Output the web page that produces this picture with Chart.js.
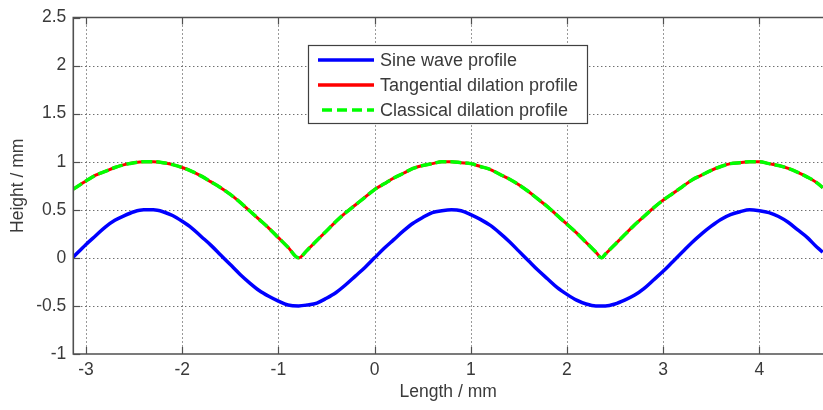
<!DOCTYPE html>
<html>
<head>
<meta charset="utf-8" />
<script src="https://cdn.jsdelivr.net/npm/chart.js@4.4.0/dist/chart.umd.min.js"></script>
<style>
  body { margin: 0; background: #fff; overflow: hidden; }
  #c { display: block; }
</style>
</head>
<body>
<canvas id="c" width="823" height="410"></canvas>
<script>
/* ---------- Data ---------- */
const xs = [-3.14, -3.0, -2.9, -2.8, -2.7, -2.6, -2.5, -2.4, -2.3, -2.2, -2.1, -2.0, -1.9, -1.8, -1.7, -1.6,
  -1.5, -1.4, -1.3, -1.2, -1.1, -1.0, -0.9, -0.79, -0.7, -0.6, -0.5, -0.4, -0.3, -0.2, -0.1, 0.0,
  0.1, 0.2, 0.3, 0.4, 0.5, 0.6, 0.7, 0.8, 0.9, 1.0, 1.1, 1.2, 1.3, 1.4, 1.5, 1.6,
  1.7, 1.8, 1.9, 2.0, 2.1, 2.2, 2.3, 2.36, 2.4, 2.5, 2.6, 2.7, 2.8, 2.9, 3.0, 3.1,
  3.2, 3.3, 3.4, 3.5, 3.6, 3.7, 3.8, 3.9, 4.0, 4.1, 4.2, 4.3, 4.4, 4.5, 4.6, 4.66];

const sineWave = [0.00, 0.14, 0.23, 0.32, 0.39, 0.44, 0.48, 0.50, 0.50, 0.48, 0.44, 0.38, 0.31, 0.22, 0.13, 0.03,
  -0.07, -0.17, -0.26, -0.34, -0.40, -0.45, -0.49, -0.50, -0.49, -0.47, -0.42, -0.36, -0.28, -0.19, -0.10, 0.00,
  0.10, 0.19, 0.28, 0.36, 0.42, 0.47, 0.49, 0.50, 0.49, 0.45, 0.40, 0.34, 0.26, 0.17, 0.07, -0.03,
  -0.13, -0.22, -0.31, -0.38, -0.44, -0.48, -0.50, -0.50, -0.50, -0.48, -0.44, -0.39, -0.32, -0.23, -0.14, -0.04,
  0.06, 0.16, 0.25, 0.33, 0.40, 0.45, 0.48, 0.50, 0.49, 0.47, 0.43, 0.37, 0.29, 0.21, 0.11, 0.06];

const tangential = [0.71, 0.80, 0.86, 0.90, 0.94, 0.97, 0.99, 1.00, 1.00, 0.99, 0.97, 0.94, 0.90, 0.85, 0.79, 0.73,
  0.66, 0.58, 0.49, 0.40, 0.31, 0.21, 0.11, 0.00, 0.08, 0.18, 0.28, 0.38, 0.47, 0.55, 0.63, 0.71,
  0.77, 0.83, 0.88, 0.93, 0.96, 0.98, 1.00, 1.00, 0.99, 0.98, 0.95, 0.92, 0.87, 0.82, 0.76, 0.69,
  0.61, 0.53, 0.44, 0.35, 0.26, 0.16, 0.06, 0.00, 0.04, 0.14, 0.24, 0.34, 0.43, 0.52, 0.60, 0.67,
  0.74, 0.81, 0.86, 0.91, 0.95, 0.98, 0.99, 1.00, 1.00, 0.98, 0.96, 0.93, 0.89, 0.84, 0.78, 0.73];

const classical = [0.71, 0.80, 0.86, 0.90, 0.94, 0.97, 0.99, 1.00, 1.00, 0.99, 0.97, 0.94, 0.90, 0.85, 0.79, 0.73,
  0.66, 0.58, 0.49, 0.40, 0.31, 0.21, 0.11, 0.00, 0.08, 0.18, 0.28, 0.38, 0.47, 0.55, 0.63, 0.71,
  0.77, 0.83, 0.88, 0.93, 0.96, 0.98, 1.00, 1.00, 0.99, 0.98, 0.95, 0.92, 0.87, 0.82, 0.76, 0.69,
  0.61, 0.53, 0.44, 0.35, 0.26, 0.16, 0.06, 0.00, 0.04, 0.14, 0.24, 0.34, 0.43, 0.52, 0.60, 0.67,
  0.74, 0.81, 0.86, 0.91, 0.95, 0.98, 0.99, 1.00, 1.00, 0.98, 0.96, 0.93, 0.89, 0.84, 0.78, 0.73];

const seriesNames = ['Sine wave profile', 'Tangential dilation profile', 'Classical dilation profile'];
const seriesColors = ['#0000ff', '#ff0000', '#00ff00'];
const xLimits = [-3.132, 4.662];
const yLimits = [-1, 2.5];

/* ---------- Styling ---------- */
const FONT = '"Liberation Sans", Arial, sans-serif';
const TEXT = '#3a3a3a';
const AXIS = '#505050';
const GREEN_DASH = [11, 4];

const pts = ys => xs.map((x, i) => ({ x: x, y: ys[i] }));

/* MATLAB-like frame: dotted grid, inward ticks, box legend */
const matlabFrame = {
  id: 'matlabFrame',
  beforeDatasetsDraw(chart) {
    const { ctx, chartArea: a, scales: { x, y } } = chart;
    ctx.save();
    ctx.strokeStyle = '#333';
    ctx.lineWidth = 1;
    ctx.setLineDash([1, 3]);
    x.ticks.forEach(t => {
      const px = Math.round(x.getPixelForValue(t.value)) + 0.5;
      ctx.beginPath(); ctx.moveTo(px, a.top); ctx.lineTo(px, a.bottom); ctx.stroke();
    });
    y.ticks.forEach(t => {
      if (t.value <= yLimits[0] || t.value >= yLimits[1]) return;
      const py = Math.round(y.getPixelForValue(t.value)) + 0.5;
      ctx.beginPath(); ctx.moveTo(a.left, py); ctx.lineTo(a.right, py); ctx.stroke();
    });
    ctx.restore();
  },
  afterDatasetsDraw(chart) {
    const { ctx, chartArea: a, scales: { x, y } } = chart;
    ctx.save();
    ctx.setLineDash([]);
    ctx.strokeStyle = AXIS;
    ctx.lineWidth = 1.6;
    ctx.beginPath();
    ctx.moveTo(a.right + 2, a.top); ctx.lineTo(a.left, a.top);
    ctx.lineTo(a.left, a.bottom); ctx.lineTo(a.right + 2, a.bottom);
    ctx.stroke();
    const tl = 7;
    ctx.lineWidth = 1.2;
    x.ticks.forEach(t => {
      const px = Math.round(x.getPixelForValue(t.value)) + 0.5;
      ctx.beginPath();
      ctx.moveTo(px, a.bottom); ctx.lineTo(px, a.bottom - tl);
      ctx.moveTo(px, a.top); ctx.lineTo(px, a.top + tl);
      ctx.stroke();
    });
    y.ticks.forEach(t => {
      const py = Math.round(y.getPixelForValue(t.value)) + 0.5;
      ctx.beginPath(); ctx.moveTo(a.left, py); ctx.lineTo(a.left + tl, py); ctx.stroke();
    });

    // legend box
    const box = { l: 308, t: 45, r: 587, b: 123 };
    ctx.fillStyle = '#fff';
    ctx.fillRect(box.l, box.t, box.r - box.l, box.b - box.t);
    ctx.strokeStyle = '#404040';
    ctx.lineWidth = 1.2;
    ctx.strokeRect(box.l + 0.5, box.t + 0.5, box.r - box.l, box.b - box.t);
    const rows = [60, 85, 110];
    ctx.font = '18px ' + FONT;
    ctx.textBaseline = 'middle';
    seriesNames.forEach((name, i) => {
      ctx.beginPath();
      ctx.strokeStyle = seriesColors[i];
      ctx.lineWidth = 3.5;
      ctx.setLineDash(i === 2 ? [10, 5] : []);
      ctx.moveTo(i === 2 ? 322 : 318, rows[i]); ctx.lineTo(374, rows[i]);
      ctx.stroke();
      ctx.setLineDash([]);
      ctx.fillStyle = TEXT;
      ctx.fillText(name, 380, rows[i] + 1);
    });
    ctx.restore();
  }
};

const chart = new Chart(document.getElementById('c'), {
  type: 'line',
  data: {
    datasets: [
      { label: seriesNames[0], data: pts(sineWave), borderColor: seriesColors[0], borderWidth: 3.5, order: 3 },
      { label: seriesNames[1], data: pts(tangential), borderColor: seriesColors[1], borderWidth: 3, order: 2 },
      { label: seriesNames[2], data: pts(classical), borderColor: seriesColors[2], borderWidth: 3.5,
        borderDash: GREEN_DASH, order: 1 }
    ]
  },
  options: {
    responsive: false,
    animation: false,
    devicePixelRatio: 1,
    layout: { padding: { top: 15.5, right: 0, left: 0, bottom: 0 } },
    elements: {
      point: { radius: 0 },
      line: { cubicInterpolationMode: 'monotone', borderCapStyle: 'butt', borderJoinStyle: 'round' }
    },
    plugins: { legend: { display: false }, tooltip: { enabled: false } },
    scales: {
      x: {
        type: 'linear',
        min: xLimits[0], max: xLimits[1],
        grid: { display: false, drawTicks: false },
        border: { display: false },
        ticks: { stepSize: 1, includeBounds: false, padding: 6, color: TEXT,
                 font: { family: FONT, size: 17.5 }, maxRotation: 0,
                 callback: v => String(v) },
        title: { display: true, text: 'Length / mm', color: TEXT,
                 font: { family: FONT, size: 17.5, lineHeight: 1.2 }, padding: { top: 0, bottom: 7 } },
        afterFit: s => { s.height = 56; }
      },
      y: {
        type: 'linear',
        min: yLimits[0], max: yLimits[1],
        grid: { display: false, drawTicks: false },
        border: { display: false },
        ticks: { stepSize: 0.5, padding: 7, color: TEXT, font: { family: FONT, size: 17.5 },
                 callback: v => String(Math.round(v * 10) / 10) },
        title: { display: true, text: 'Height / mm', color: TEXT,
                 font: { family: FONT, size: 17.5, lineHeight: 1.2 }, padding: { top: 8, bottom: 0 } },
        afterFit: s => { s.width = 73.3; }
      }
    }
  },
  plugins: [matlabFrame]
});
</script>
</body>
</html>
